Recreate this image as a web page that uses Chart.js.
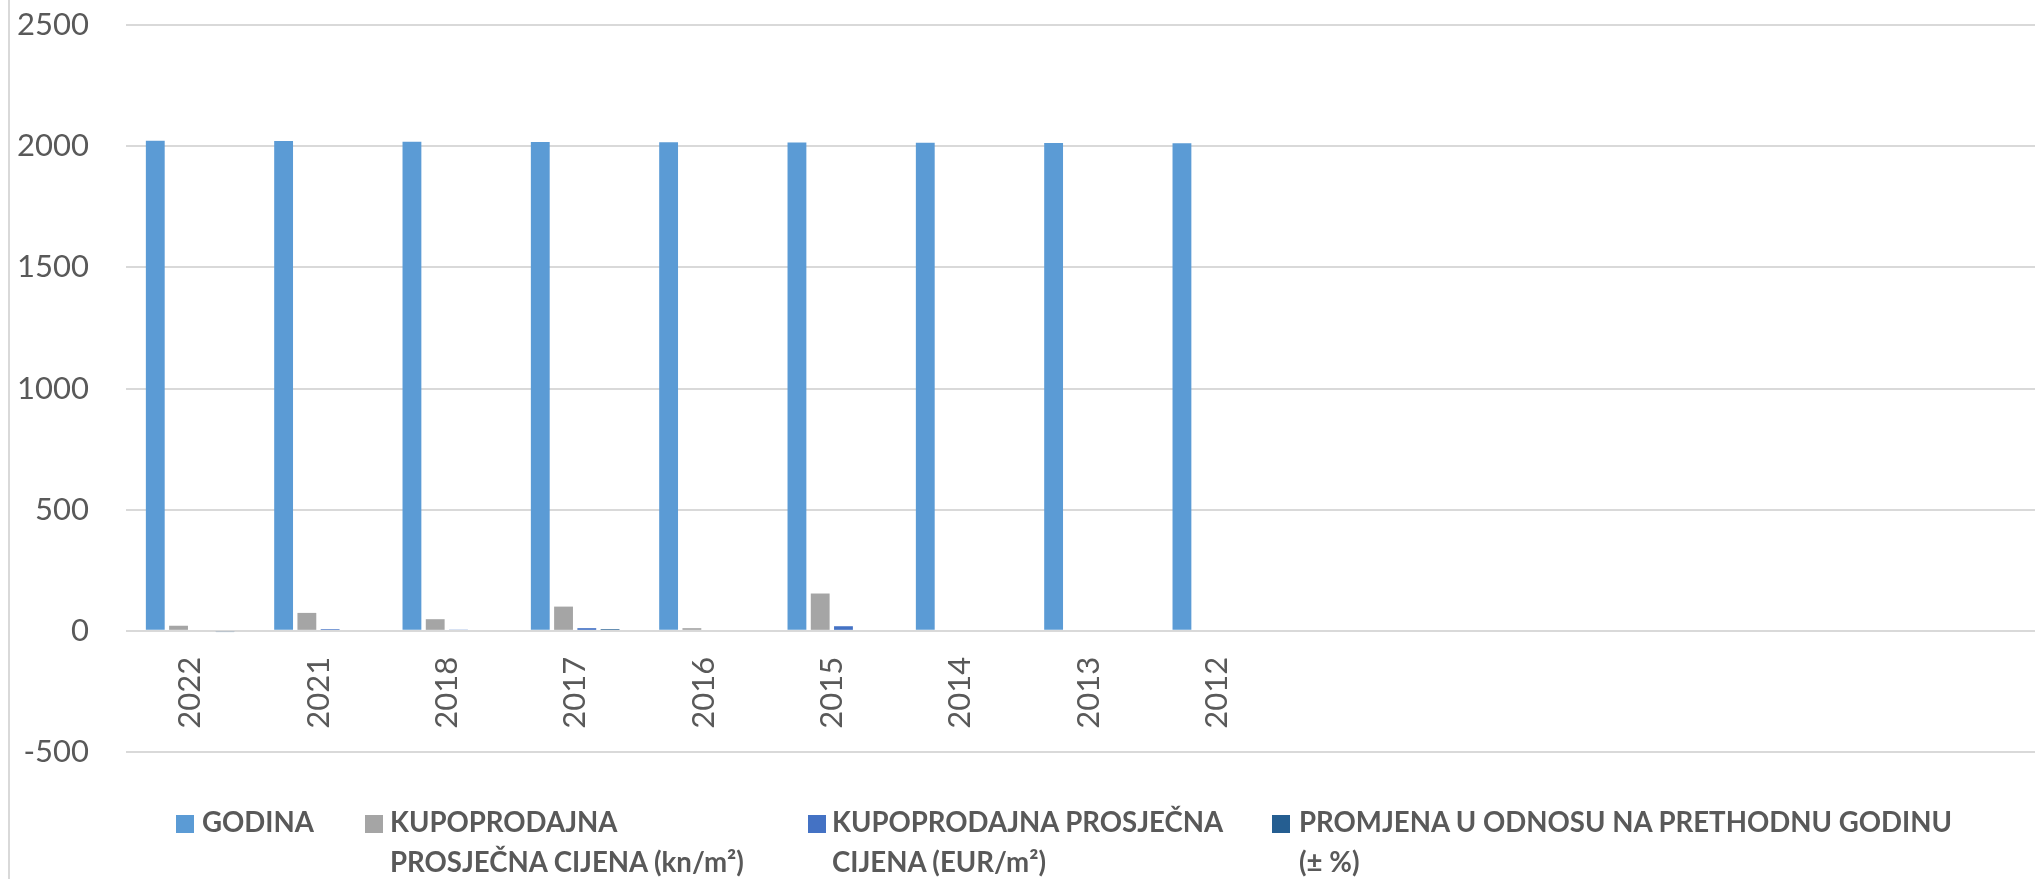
<!DOCTYPE html>
<html>
<head>
<meta charset="utf-8">
<script src="https://cdn.jsdelivr.net/npm/chart.js@4.4.1/dist/chart.umd.min.js"></script>
<style>
  html, body { margin: 0; padding: 0; background: #fff; overflow: hidden; }
  #wrap { position: relative; width: 2035px; height: 879px; overflow: hidden; }
  #box { position: absolute; left: 0; top: 0; width: 2051px; height: 879px; }
  #frame { position: absolute; left: 8px; top: 0; width: 2px; height: 879px; background: #d9d9d9; }
  .lg { position: absolute; font-family: Lato, sans-serif; font-weight: bold; font-size: 27.6px;
        line-height: 40px; color: #595959; white-space: nowrap; }
  .sw { position: absolute; width: 18px; height: 18px; }
</style>
</head>
<body>
<div id="wrap">
  <div id="frame"></div>
  <div id="box"><canvas id="myBarChart"></canvas></div>
  <div id="legend"></div>
</div>
<script>
  // categories (Excel left 6 empty slots after 2012)
  var years = ['2022', '2021', '2018', '2017', '2016', '2015', '2014', '2013', '2012',
               '', '', '', '', '', ''];
  var godina = [2022, 2021, 2018, 2017, 2016, 2015, 2014, 2013, 2012];
  var cijenaKn = [21, 74, 48, 100, 11, 154];
  var cijenaEur = [0, 7, 5, 11, 0, 19];
  var promjena = [-5, 0, -4, 7, -4, 0];
  var yTicks = [-500, 0, 500, 1000, 1500, 2000, 2500];

  var seriesNames = [
    ['GODINA'],
    ['KUPOPRODAJNA', 'PROSJEČNA CIJENA (kn/m²)'],
    ['KUPOPRODAJNA PROSJEČNA', 'CIJENA (EUR/m²)'],
    ['PROMJENA U ODNOSU NA PRETHODNU GODINU', '(± %)']
  ];
  var colors = ['#5b9bd5', '#a5a5a5', '#4472c4', '#255e91'];

  var data = {
    labels: years,
    datasets: [godina, cijenaKn, cijenaEur, promjena].map(function (vals, i) {
      return {
        label: seriesNames[i].join(' '),
        data: vals,
        backgroundColor: colors[i],
        borderWidth: 0,
        categoryPercentage: 0.725,
        barPercentage: 0.81
      };
    })
  };

  var tickFont = { family: 'Lato', size: 31 };

  var options = {
    responsive: true,
    maintainAspectRatio: false,
    animation: false,
    layout: { padding: { top: 25, bottom: 127, right: 0, left: 0 } },
    scales: {
      x: {
        position: { y: 0 },
        grid: { display: false, drawTicks: false },
        border: { display: false },
        ticks: {
          autoSkip: false,
          minRotation: 90,
          maxRotation: 90,
          padding: 26,
          color: '#595959',
          font: tickFont
        }
      },
      y: {
        min: yTicks[0],
        max: yTicks[yTicks.length - 1],
        afterFit: function (s) { s.width = 126; },
        // invisible tick marks push the labels away from the plot
        grid: { color: '#d9d9d9', lineWidth: 2, drawTicks: true, tickLength: 37, tickColor: 'rgba(0,0,0,0)' },
        border: { display: false },
        ticks: {
          stepSize: 500,
          padding: 0,
          color: '#595959',
          font: tickFont,
          callback: function (v) { return String(v); }
        }
      }
    },
    plugins: {
      legend: { display: false },
      tooltip: { enabled: false }
    }
  };

  var ctx = document.getElementById('myBarChart').getContext('2d');
  var myBarChart = new Chart(ctx, { type: 'bar', data: data, options: options });

  // legend drawn as html so the names can wrap like the original
  var legendPos = [[176, 202], [365, 390], [808, 832], [1272, 1299]];
  var legendHtml = '';
  seriesNames.forEach(function (lines, i) {
    legendHtml += '<div class="sw" style="left:' + legendPos[i][0] + 'px;top:815px;background:' + colors[i] + '"></div>';
    legendHtml += '<div class="lg" style="left:' + legendPos[i][1] + 'px;top:802px">' + lines.join('<br>') + '</div>';
  });
  document.getElementById('legend').innerHTML = legendHtml;
</script>
</body>
</html>
